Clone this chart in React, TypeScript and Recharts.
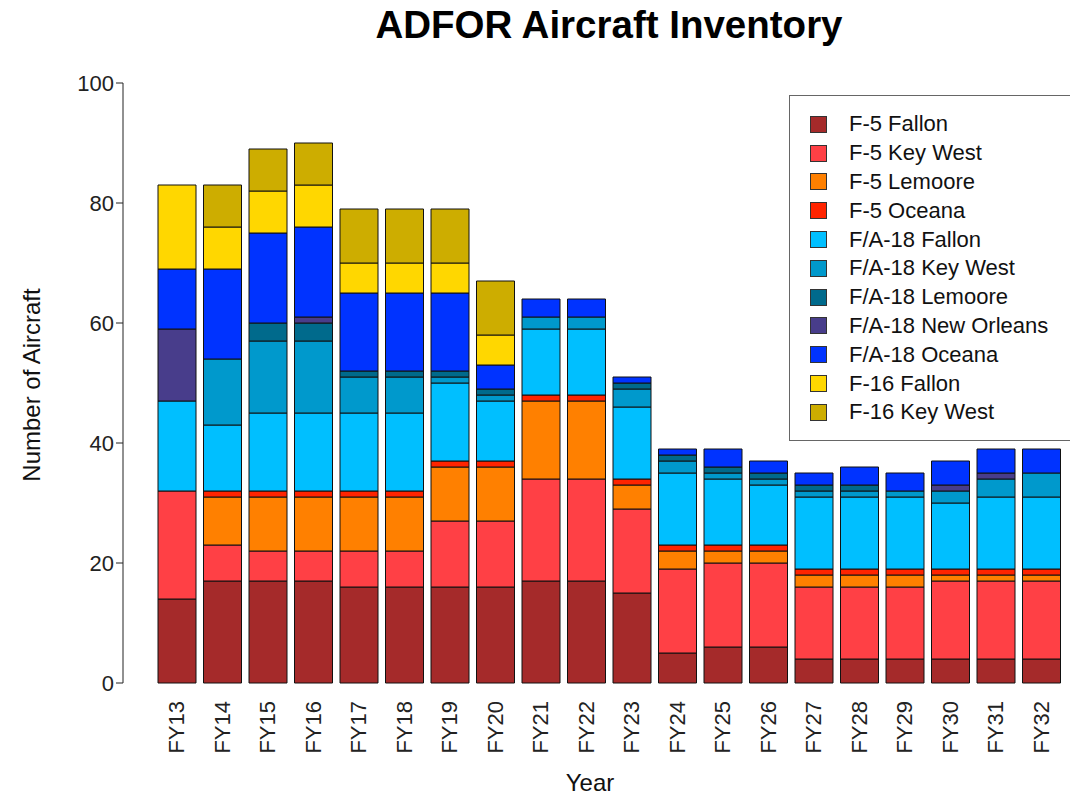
import React from 'react';
import { BarChart, Bar, XAxis, YAxis } from 'recharts';

const years = [
  'FY13', 'FY14', 'FY15', 'FY16', 'FY17', 'FY18', 'FY19', 'FY20', 'FY21', 'FY22',
  'FY23', 'FY24', 'FY25', 'FY26', 'FY27', 'FY28', 'FY29', 'FY30', 'FY31', 'FY32',
];

const f5Fallon = [14, 17, 17, 17, 16, 16, 16, 16, 17, 17, 15, 5, 6, 6, 4, 4, 4, 4, 4, 4];
const f5KeyWest = [18, 6, 5, 5, 6, 6, 11, 11, 17, 17, 14, 14, 14, 14, 12, 12, 12, 13, 13, 13];
const f5Lemoore = [0, 8, 9, 9, 9, 9, 9, 9, 13, 13, 4, 3, 2, 2, 2, 2, 2, 1, 1, 1];
const f5Oceana = [0, 1, 1, 1, 1, 1, 1, 1, 1, 1, 1, 1, 1, 1, 1, 1, 1, 1, 1, 1];
const fa18Fallon = [15, 11, 13, 13, 13, 13, 13, 10, 11, 11, 12, 12, 11, 10, 12, 12, 12, 11, 12, 12];
const fa18KeyWest = [0, 11, 12, 12, 6, 6, 1, 1, 2, 2, 3, 2, 1, 1, 1, 1, 1, 2, 3, 4];
const fa18Lemoore = [0, 0, 3, 3, 1, 1, 1, 1, 0, 0, 1, 1, 1, 1, 1, 1, 0, 0, 0, 0];
const fa18NewOrleans = [12, 0, 0, 1, 0, 0, 0, 0, 0, 0, 0, 0, 0, 0, 0, 0, 0, 1, 1, 0];
const fa18Oceana = [10, 15, 15, 15, 13, 13, 13, 4, 3, 3, 1, 1, 3, 2, 2, 3, 3, 4, 4, 4];
const f16Fallon = [14, 7, 7, 7, 5, 5, 5, 5, 0, 0, 0, 0, 0, 0, 0, 0, 0, 0, 0, 0];
const f16KeyWest = [0, 7, 7, 7, 9, 9, 9, 9, 0, 0, 0, 0, 0, 0, 0, 0, 0, 0, 0, 0];

const yTicks = [0, 20, 40, 60, 80, 100];

const series = [
  { key: 'F-5 Fallon', values: f5Fallon, color: '#A52A2A' },
  { key: 'F-5 Key West', values: f5KeyWest, color: '#FF4045' },
  { key: 'F-5 Lemoore', values: f5Lemoore, color: '#FF8000' },
  { key: 'F-5 Oceana', values: f5Oceana, color: '#FF2400' },
  { key: 'F/A-18 Fallon', values: fa18Fallon, color: '#00BFFF' },
  { key: 'F/A-18 Key West', values: fa18KeyWest, color: '#0099CC' },
  { key: 'F/A-18 Lemoore', values: fa18Lemoore, color: '#006A8C' },
  { key: 'F/A-18 New Orleans', values: fa18NewOrleans, color: '#483D8B' },
  { key: 'F/A-18 Oceana', values: fa18Oceana, color: '#0033FF' },
  { key: 'F-16 Fallon', values: f16Fallon, color: '#FFD700' },
  { key: 'F-16 Key West', values: f16KeyWest, color: '#CDAD00' },
];

const data = years.map((year, i) => {
  const row: Record<string, string | number> = { year };
  series.forEach((s) => {
    row[s.key] = s.values[i];
  });
  return row;
});

const font = '"Liberation Sans", Arial, sans-serif';

function YearTick({ x, y, payload }: any) {
  return (
    <g transform={`translate(${x},${y})`}>
      <text
        x={0}
        y={0}
        dy="0.35em"
        textAnchor="end"
        transform="rotate(-90)"
        fontSize={22}
        fontFamily={font}
        fill="#222"
      >
        {payload.value}
      </text>
    </g>
  );
}

// legend drawn as an overlay so it does not shrink the plot area
function LegendBox() {
  return (
    <div
      style={{
        position: 'absolute',
        left: 789,
        top: 95,
        width: 290,
        border: '1px solid #666',
        background: '#fff',
        padding: '14px 0 13px 20px',
        boxSizing: 'border-box',
        fontFamily: font,
      }}
    >
      {series.map((s) => (
        <div
          key={s.key}
          style={{ display: 'flex', alignItems: 'center', height: 28.8 }}
        >
          <span
            style={{
              width: 15,
              height: 15,
              background: s.color,
              border: '1px solid #333',
              marginRight: 22,
            }}
          />
          <span style={{ fontSize: 22, color: '#111' }}>{s.key}</span>
        </div>
      ))}
    </div>
  );
}

export default function App() {
  return (
    <div
      style={{
        position: 'absolute',
        left: 0,
        top: 0,
        width: 1070,
        height: 796,
        background: '#fff',
        fontFamily: font,
        overflow: 'hidden',
      }}
    >
      <div
        style={{
          position: 'absolute',
          top: 3,
          left: 0,
          width: 1218,
          textAlign: 'center',
          fontSize: 38.5,
          fontWeight: 'bold',
          color: '#000',
        }}
      >
        ADFOR Aircraft Inventory
      </div>
      <div
        style={{
          position: 'absolute',
          left: 32,
          top: 385,
          transform: 'translate(-50%, -50%) rotate(-90deg)',
          fontSize: 24,
          whiteSpace: 'nowrap',
          color: '#111',
        }}
      >
        Number of Aircraft
      </div>
      <div
        style={{
          position: 'absolute',
          left: 590,
          top: 783,
          transform: 'translate(-50%, -50%)',
          fontSize: 24,
          color: '#111',
        }}
      >
        Year
      </div>
      <BarChart
        width={1070}
        height={796}
        data={data}
        margin={{ top: 83, right: 6, left: 0, bottom: 13 }}
        barCategoryGap={0}
      >
        <XAxis
          dataKey="year"
          axisLine={false}
          tickLine={false}
          interval={0}
          height={100}
          padding={{ left: 31, right: 0 }}
          tick={<YearTick />}
          tickMargin={12}
        />
        <YAxis
          width={123}
          domain={[0, 100]}
          ticks={yTicks}
          axisLine={{ stroke: '#222' }}
          tickLine={{ stroke: '#222' }}
          tickSize={7}
          tick={{ fontSize: 22, fill: '#222', fontFamily: font }}
        />
        {series.map((s) => (
          <Bar
            key={s.key}
            dataKey={s.key}
            stackId="a"
            fill={s.color}
            stroke="#111"
            strokeWidth={1}
            barSize={38}
            isAnimationActive={false}
          />
        ))}
      </BarChart>
      <LegendBox />
    </div>
  );
}
